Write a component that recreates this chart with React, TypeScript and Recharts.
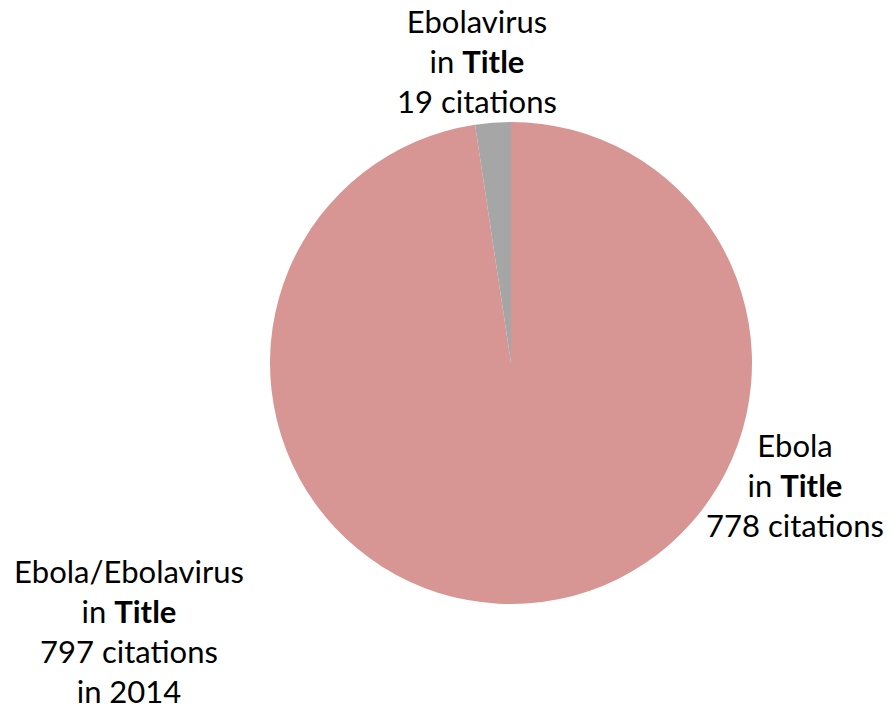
import { PieChart, Pie, Cell } from 'recharts';

// slices (clockwise from 12 o'clock)
const names = ['Ebola', 'Ebolavirus'];
const citations = [778, 19];
const colors = ['#D79694', '#A6A6A6'];

const totalLabel = ['Ebola/Ebolavirus', 'in ', 'Title', '797 citations', 'in 2014'];

const data = names.map((name, i) => ({ name, value: citations[i] }));

const FONT = 'Lato, "Open Sans", sans-serif';

function Label({ x, y, lines }: { x: number; y: number; lines: (string | [string, string])[] }) {
  return (
    <text x={x} y={y} textAnchor="middle" fontFamily={FONT} fontSize={31} fill="#000">
      {lines.map((l, i) =>
        typeof l === 'string' ? (
          <tspan key={i} x={x} dy={i === 0 ? 0 : 40}>{l}</tspan>
        ) : (
          <tspan key={i} x={x} dy={i === 0 ? 0 : 40}>
            {l[0]}
            <tspan fontWeight="bold">{l[1]}</tspan>
          </tspan>
        )
      )}
    </text>
  );
}

export default function App() {
  return (
    <div style={{ position: 'absolute', left: 0, top: 0, width: 890, height: 717, background: '#fff' }}>
      <PieChart width={890} height={717} margin={{ top: 0, right: 0, bottom: 0, left: 0 }}>
        <Pie
          data={data}
          dataKey="value"
          nameKey="name"
          cx={511}
          cy={363}
          outerRadius={241}
          startAngle={90}
          endAngle={-270}
          stroke="none"
          isAnimationActive={false}
        >
          {data.map((d, i) => (
            <Cell key={d.name} fill={colors[i]} />
          ))}
        </Pie>
      </PieChart>
      <svg width={890} height={717} style={{ position: 'absolute', left: 0, top: 0 }}>
        <Label x={477} y={33} lines={[names[1], ['in ', 'Title'], `${citations[1]} citations`]} />
        <Label x={795} y={457} lines={[names[0], ['in ', 'Title'], `${citations[0]} citations`]} />
        <Label
          x={129}
          y={583}
          lines={[totalLabel[0], [totalLabel[1], totalLabel[2]], totalLabel[3], totalLabel[4]]}
        />
      </svg>
    </div>
  );
}
